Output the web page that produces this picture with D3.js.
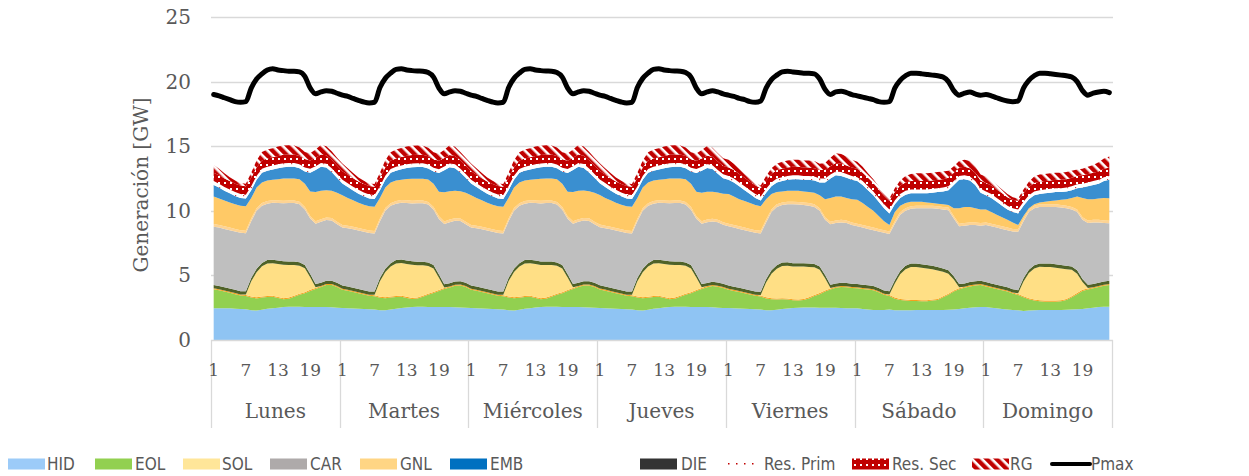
<!DOCTYPE html>
<html>
<head>
<meta charset="utf-8">
<script src="https://cdn.jsdelivr.net/npm/d3@7"></script>
<style>
  body { margin: 0; background: #fff; }
  svg { display: block; }
</style>
</head>
<body>
<svg id="chart" width="1249" height="476"></svg>
<script>
// ---- Data: hourly generation by technology, one row of 24 hours per day (GW) ----
const days = ["Lunes", "Martes", "Miércoles", "Jueves", "Viernes", "Sábado", "Domingo"];
const hourTicks = [1, 7, 13, 19];
const yTicks = [0, 5, 10, 15, 20, 25];

const HID = [
  [2.45,2.45,2.45,2.45,2.42,2.40,2.38,2.30,2.28,2.35,2.42,2.45,2.50,2.55,2.58,2.58,2.57,2.55,2.55,2.55,2.55,2.55,2.53,2.50],
  [2.48,2.45,2.44,2.42,2.40,2.38,2.36,2.30,2.30,2.36,2.42,2.47,2.52,2.55,2.57,2.57,2.56,2.55,2.55,2.56,2.55,2.54,2.52,2.50],
  [2.48,2.46,2.44,2.42,2.40,2.38,2.36,2.30,2.29,2.35,2.42,2.46,2.51,2.55,2.57,2.58,2.57,2.55,2.55,2.55,2.55,2.54,2.52,2.50],
  [2.48,2.46,2.44,2.42,2.40,2.38,2.36,2.30,2.29,2.35,2.42,2.46,2.51,2.55,2.57,2.58,2.57,2.55,2.55,2.55,2.55,2.53,2.50,2.48],
  [2.48,2.45,2.44,2.42,2.40,2.38,2.36,2.30,2.30,2.34,2.40,2.44,2.48,2.50,2.52,2.52,2.52,2.50,2.50,2.50,2.50,2.48,2.46,2.45],
  [2.45,2.40,2.36,2.33,2.32,2.32,2.36,2.30,2.30,2.30,2.31,2.32,2.32,2.32,2.32,2.32,2.33,2.34,2.36,2.40,2.45,2.50,2.53,2.55],
  [2.55,2.50,2.45,2.40,2.36,2.32,2.30,2.25,2.28,2.30,2.32,2.32,2.32,2.32,2.33,2.35,2.36,2.38,2.40,2.45,2.50,2.55,2.58,2.58]
].flat();

const EOL = [
  [1.47,1.40,1.30,1.20,1.13,1.05,1.02,0.98,0.94,0.93,0.91,0.90,0.75,0.60,0.62,0.77,0.93,1.07,1.25,1.40,1.55,1.70,1.72,1.60],
  [1.40,1.36,1.28,1.20,1.12,1.05,1.02,0.97,0.93,0.92,0.90,0.88,0.74,0.62,0.64,0.78,0.94,1.08,1.24,1.38,1.52,1.66,1.70,1.60],
  [1.40,1.35,1.28,1.20,1.12,1.05,1.02,0.98,0.94,0.92,0.90,0.88,0.74,0.60,0.63,0.77,0.93,1.07,1.24,1.40,1.55,1.68,1.70,1.60],
  [1.42,1.36,1.28,1.20,1.12,1.05,1.02,0.98,0.94,0.92,0.90,0.88,0.74,0.61,0.63,0.77,0.93,1.07,1.24,1.40,1.54,1.64,1.62,1.55],
  [1.40,1.35,1.28,1.20,1.12,1.05,1.00,0.92,0.85,0.80,0.75,0.70,0.60,0.55,0.58,0.70,0.88,1.05,1.25,1.40,1.55,1.62,1.62,1.58],
  [1.55,1.55,1.54,1.52,1.38,1.18,1.04,0.90,0.80,0.75,0.71,0.70,0.68,0.68,0.73,0.78,0.97,1.16,1.39,1.52,1.60,1.65,1.69,1.71],
  [1.60,1.55,1.50,1.45,1.39,1.28,1.18,1.05,0.87,0.75,0.68,0.65,0.65,0.65,0.67,0.75,0.94,1.17,1.40,1.45,1.50,1.55,1.62,1.68]
].flat();

const BIO = [
  [0.08,0.08,0.08,0.08,0.08,0.08,0.08,0.08,0.08,0.08,0.08,0.08,0.08,0.08,0.08,0.08,0.08,0.08,0.08,0.08,0.08,0.08,0.08,0.08],
  [0.08,0.08,0.08,0.08,0.08,0.08,0.08,0.08,0.08,0.08,0.08,0.08,0.08,0.08,0.08,0.08,0.08,0.08,0.08,0.08,0.08,0.08,0.08,0.08],
  [0.08,0.08,0.08,0.08,0.08,0.08,0.08,0.08,0.08,0.08,0.08,0.08,0.08,0.08,0.08,0.08,0.08,0.08,0.08,0.08,0.08,0.08,0.08,0.08],
  [0.08,0.08,0.08,0.08,0.08,0.08,0.08,0.08,0.08,0.08,0.08,0.08,0.08,0.08,0.08,0.08,0.08,0.08,0.08,0.08,0.08,0.08,0.08,0.08],
  [0.08,0.08,0.08,0.08,0.08,0.08,0.08,0.08,0.08,0.08,0.08,0.08,0.08,0.08,0.08,0.08,0.08,0.08,0.08,0.08,0.08,0.08,0.08,0.08],
  [0.08,0.08,0.08,0.08,0.08,0.08,0.08,0.08,0.08,0.08,0.08,0.08,0.08,0.08,0.08,0.08,0.08,0.08,0.08,0.08,0.08,0.08,0.08,0.08],
  [0.08,0.08,0.08,0.08,0.08,0.08,0.08,0.08,0.08,0.08,0.08,0.08,0.08,0.08,0.08,0.08,0.08,0.08,0.08,0.08,0.08,0.08,0.08,0.08]
].flat();

const SOL = [
  [0,0,0,0,0,0,0.05,1.19,1.95,2.34,2.51,2.52,2.55,2.59,2.52,2.37,2.17,1.85,0.97,0.05,0,0,0,0],
  [0,0,0,0,0,0,0.05,1.20,1.95,2.33,2.52,2.53,2.55,2.57,2.50,2.36,2.15,1.83,0.95,0.05,0,0,0,0],
  [0,0,0,0,0,0,0.05,1.20,1.95,2.34,2.52,2.53,2.55,2.58,2.52,2.37,2.16,1.84,0.96,0.05,0,0,0,0],
  [0,0,0,0,0,0,0.05,1.18,1.94,2.34,2.52,2.53,2.55,2.58,2.52,2.37,2.16,1.84,0.96,0.05,0,0,0,0],
  [0,0,0,0,0,0,0.05,1.15,1.90,2.30,2.50,2.52,2.52,2.55,2.50,2.35,2.15,1.80,0.95,0.05,0,0,0,0],
  [0,0,0,0,0,0,0.05,1.10,1.90,2.35,2.55,2.55,2.52,2.45,2.35,2.20,1.90,1.55,0.85,0.08,0,0,0,0],
  [0,0,0,0,0,0,0.05,1.15,1.95,2.40,2.58,2.60,2.60,2.55,2.45,2.30,2.05,1.50,0.60,0.05,0,0,0,0]
].flat();

const DIE = [
  [0.25,0.25,0.25,0.25,0.25,0.25,0.25,0.25,0.26,0.26,0.27,0.27,0.27,0.27,0.27,0.27,0.26,0.26,0.25,0.25,0.25,0.25,0.25,0.25],
  [0.25,0.25,0.25,0.25,0.25,0.25,0.25,0.25,0.26,0.26,0.27,0.27,0.27,0.27,0.27,0.27,0.26,0.26,0.25,0.25,0.25,0.25,0.25,0.25],
  [0.25,0.25,0.25,0.25,0.25,0.25,0.25,0.25,0.26,0.26,0.27,0.27,0.27,0.27,0.27,0.27,0.26,0.26,0.25,0.25,0.25,0.25,0.25,0.25],
  [0.25,0.25,0.25,0.25,0.25,0.25,0.25,0.25,0.26,0.26,0.27,0.27,0.27,0.27,0.27,0.27,0.26,0.26,0.25,0.25,0.25,0.25,0.25,0.25],
  [0.25,0.25,0.25,0.25,0.25,0.25,0.25,0.25,0.26,0.26,0.27,0.27,0.27,0.27,0.27,0.27,0.26,0.26,0.25,0.25,0.25,0.25,0.25,0.25],
  [0.25,0.25,0.25,0.25,0.25,0.25,0.25,0.25,0.26,0.26,0.27,0.27,0.27,0.27,0.27,0.27,0.26,0.26,0.25,0.25,0.25,0.25,0.25,0.25],
  [0.25,0.25,0.25,0.25,0.25,0.25,0.25,0.25,0.26,0.26,0.27,0.27,0.27,0.27,0.27,0.27,0.26,0.26,0.25,0.25,0.25,0.25,0.25,0.25]
].flat();

const CAR = [
  [4.52,4.52,4.52,4.52,4.52,4.52,4.48,4.40,4.49,4.44,4.36,4.40,4.45,4.49,4.53,4.53,4.49,4.29,4.30,4.67,4.72,4.70,4.67,4.52],
  [4.50,4.50,4.52,4.52,4.52,4.52,4.48,4.40,4.49,4.44,4.36,4.40,4.45,4.48,4.53,4.53,4.49,4.29,4.30,4.66,4.72,4.70,4.66,4.52],
  [4.50,4.50,4.52,4.52,4.52,4.52,4.48,4.40,4.49,4.44,4.36,4.40,4.45,4.49,4.53,4.53,4.49,4.29,4.30,4.67,4.72,4.70,4.67,4.52],
  [4.50,4.50,4.52,4.52,4.52,4.52,4.48,4.40,4.49,4.44,4.36,4.40,4.45,4.49,4.53,4.53,4.49,4.29,4.30,4.67,4.70,4.68,4.66,4.56],
  [4.59,4.57,4.55,4.55,4.55,4.54,4.51,4.40,4.51,4.52,4.45,4.49,4.55,4.53,4.50,4.48,4.41,4.31,4.27,4.67,4.67,4.67,4.64,4.54],
  [4.47,4.42,4.37,4.32,4.37,4.47,4.42,4.37,4.36,4.26,4.23,4.28,4.33,4.40,4.45,4.50,4.56,4.66,4.47,4.47,4.47,4.42,4.35,4.26],
  [4.42,4.42,4.42,4.42,4.42,4.47,4.52,4.42,4.46,4.41,4.37,4.38,4.38,4.43,4.45,4.45,4.41,4.51,4.57,4.77,4.77,4.67,4.52,4.44]
].flat();

const GNA = [
  [0.20,0.20,0.20,0.20,0.20,0.20,0.20,0.20,0.20,0.20,0.20,0.20,0.20,0.20,0.20,0.20,0.20,0.20,0.20,0.20,0.20,0.20,0.20,0.20],
  [0.20,0.20,0.20,0.20,0.20,0.20,0.20,0.20,0.20,0.20,0.20,0.20,0.20,0.20,0.20,0.20,0.20,0.20,0.20,0.20,0.20,0.20,0.20,0.20],
  [0.20,0.20,0.20,0.20,0.20,0.20,0.20,0.20,0.20,0.20,0.20,0.20,0.20,0.20,0.20,0.20,0.20,0.20,0.20,0.20,0.20,0.20,0.20,0.20],
  [0.20,0.20,0.20,0.20,0.20,0.20,0.20,0.20,0.20,0.20,0.20,0.20,0.20,0.20,0.20,0.20,0.20,0.20,0.20,0.20,0.20,0.20,0.20,0.20],
  [0.20,0.20,0.20,0.20,0.20,0.20,0.20,0.20,0.20,0.20,0.20,0.20,0.20,0.20,0.20,0.20,0.20,0.20,0.20,0.20,0.20,0.20,0.20,0.20],
  [0.20,0.20,0.20,0.20,0.20,0.20,0.20,0.20,0.20,0.20,0.20,0.20,0.20,0.20,0.20,0.20,0.20,0.20,0.20,0.20,0.20,0.20,0.20,0.20],
  [0.20,0.20,0.20,0.20,0.20,0.20,0.20,0.20,0.20,0.20,0.20,0.20,0.20,0.20,0.20,0.20,0.20,0.20,0.20,0.20,0.20,0.20,0.20,0.20]
].flat();

const GNL = [
  [2.13,2.05,2.00,1.95,1.90,1.90,1.89,1.60,1.60,1.60,1.60,1.58,1.65,1.72,1.70,1.70,1.75,1.80,1.90,2.25,2.20,2.12,2.10,2.25],
  [2.30,2.15,2.05,1.95,1.90,1.88,1.88,1.60,1.60,1.60,1.60,1.58,1.65,1.72,1.70,1.70,1.75,1.80,1.90,2.25,2.20,2.12,2.10,2.25],
  [2.30,2.15,2.05,1.95,1.90,1.88,1.88,1.60,1.60,1.60,1.60,1.58,1.65,1.72,1.70,1.70,1.75,1.80,1.90,2.25,2.20,2.12,2.10,2.25],
  [2.30,2.15,2.05,1.95,1.90,1.88,1.88,1.60,1.60,1.60,1.60,1.58,1.65,1.72,1.70,1.70,1.75,1.80,1.90,2.20,2.15,2.10,2.10,2.20],
  [2.30,2.20,2.10,2.05,2.00,1.95,1.90,1.60,1.20,0.95,0.85,0.85,0.85,0.87,0.85,0.85,0.90,1.00,1.40,1.85,1.85,1.80,1.75,1.80],
  [1.85,1.70,1.50,1.30,1.00,0.70,0.50,0.70,0.50,0.40,0.35,0.30,0.30,0.25,0.20,0.20,0.20,0.20,0.60,1.20,1.25,1.20,1.10,1.05],
  [1.00,0.90,0.80,0.70,0.60,0.50,0.32,0.20,0.10,0.10,0.15,0.20,0.25,0.30,0.40,0.50,0.70,1.00,1.50,1.65,1.60,1.65,1.75,1.74]
].flat();

const EMB = [
  [0.90,0.85,0.75,0.70,0.65,0.60,0.60,0.60,0.60,0.75,0.75,0.80,0.85,0.88,0.90,0.90,0.85,0.95,1.45,1.70,1.85,1.75,1.45,1.15],
  [0.90,0.85,0.75,0.70,0.65,0.60,0.60,0.60,0.60,0.75,0.75,0.80,0.85,0.88,0.90,0.90,0.85,0.95,1.45,1.70,1.85,1.75,1.45,1.15],
  [0.90,0.85,0.75,0.70,0.65,0.60,0.60,0.60,0.60,0.75,0.75,0.80,0.85,0.88,0.90,0.90,0.85,0.95,1.45,1.70,1.85,1.75,1.45,1.15],
  [0.90,0.85,0.75,0.70,0.65,0.60,0.60,0.60,0.60,0.75,0.75,0.80,0.85,0.88,0.90,0.90,0.85,0.95,1.45,1.70,1.85,1.75,1.45,1.20],
  [1.10,1.10,1.00,0.85,0.70,0.55,0.45,0.50,0.60,0.75,0.80,0.85,0.90,0.90,0.90,0.95,0.95,1.00,1.30,1.50,1.65,1.60,1.55,1.50],
  [1.45,1.40,1.30,1.20,1.10,1.00,0.90,0.60,0.60,0.65,0.65,0.65,0.65,0.70,0.80,0.90,1.00,1.15,1.80,2.20,2.15,2.05,1.80,1.30],
  [1.10,1.10,1.00,0.90,0.80,0.80,0.90,0.80,0.70,0.70,0.65,0.65,0.65,0.65,0.60,0.60,0.60,0.65,0.80,1.00,1.10,1.15,1.30,1.43]
].flat();

const RESPRIM = [
  [0.30,0.30,0.30,0.30,0.30,0.30,0.30,0.30,0.30,0.30,0.30,0.30,0.30,0.30,0.30,0.30,0.30,0.30,0.30,0.30,0.30,0.30,0.30,0.30],
  [0.30,0.30,0.30,0.30,0.30,0.30,0.30,0.30,0.30,0.30,0.30,0.30,0.30,0.30,0.30,0.30,0.30,0.30,0.30,0.30,0.30,0.30,0.30,0.30],
  [0.30,0.30,0.30,0.30,0.30,0.30,0.30,0.30,0.30,0.30,0.30,0.30,0.30,0.30,0.30,0.30,0.30,0.30,0.30,0.30,0.30,0.30,0.30,0.30],
  [0.30,0.30,0.30,0.30,0.30,0.30,0.30,0.30,0.30,0.30,0.30,0.30,0.30,0.30,0.30,0.30,0.30,0.30,0.30,0.30,0.30,0.30,0.30,0.30],
  [0.30,0.30,0.30,0.30,0.30,0.30,0.30,0.30,0.30,0.30,0.30,0.30,0.30,0.30,0.30,0.30,0.30,0.30,0.30,0.30,0.30,0.30,0.30,0.30],
  [0.30,0.30,0.30,0.30,0.30,0.30,0.30,0.30,0.30,0.30,0.30,0.30,0.30,0.30,0.30,0.30,0.30,0.30,0.30,0.30,0.30,0.30,0.30,0.30],
  [0.30,0.30,0.30,0.30,0.30,0.30,0.30,0.30,0.30,0.30,0.30,0.30,0.30,0.30,0.30,0.30,0.30,0.30,0.30,0.30,0.30,0.30,0.30,0.30]
].flat();

const RESSEC = [
  [0.65,0.65,0.65,0.65,0.65,0.65,0.65,0.65,0.65,0.65,0.65,0.65,0.65,0.65,0.65,0.65,0.65,0.65,0.65,0.65,0.65,0.65,0.65,0.65],
  [0.65,0.65,0.65,0.65,0.65,0.65,0.65,0.65,0.65,0.65,0.65,0.65,0.65,0.65,0.65,0.65,0.65,0.65,0.65,0.65,0.65,0.65,0.65,0.65],
  [0.65,0.65,0.65,0.65,0.65,0.65,0.65,0.65,0.65,0.65,0.65,0.65,0.65,0.65,0.65,0.65,0.65,0.65,0.65,0.65,0.65,0.65,0.65,0.65],
  [0.65,0.65,0.65,0.65,0.65,0.65,0.65,0.65,0.65,0.65,0.65,0.65,0.65,0.65,0.65,0.65,0.65,0.65,0.65,0.65,0.65,0.65,0.65,0.65],
  [0.65,0.65,0.65,0.65,0.65,0.65,0.65,0.65,0.65,0.65,0.65,0.65,0.65,0.65,0.65,0.65,0.65,0.65,0.65,0.65,0.65,0.65,0.65,0.65],
  [0.65,0.65,0.65,0.65,0.65,0.65,0.65,0.65,0.65,0.65,0.65,0.65,0.65,0.65,0.65,0.65,0.65,0.65,0.65,0.65,0.65,0.65,0.65,0.65],
  [0.65,0.65,0.65,0.65,0.65,0.65,0.65,0.65,0.65,0.65,0.65,0.65,0.65,0.65,0.65,0.65,0.65,0.65,0.65,0.65,0.65,0.65,0.65,0.65]
].flat();

const RG = [
  [0.60,0.50,0.40,0.30,0.25,0.20,0.20,0.40,0.55,0.65,0.70,0.70,0.72,0.72,0.72,0.70,0.65,0.55,0.55,0.65,0.75,0.70,0.65,0.60],
  [0.60,0.50,0.40,0.30,0.25,0.20,0.20,0.40,0.55,0.65,0.70,0.70,0.72,0.72,0.72,0.70,0.65,0.55,0.55,0.65,0.75,0.70,0.65,0.60],
  [0.60,0.50,0.40,0.30,0.25,0.20,0.20,0.40,0.55,0.65,0.70,0.70,0.72,0.72,0.72,0.70,0.65,0.55,0.55,0.65,0.75,0.70,0.65,0.60],
  [0.60,0.50,0.40,0.30,0.25,0.20,0.20,0.40,0.55,0.65,0.70,0.70,0.72,0.72,0.72,0.70,0.65,0.55,0.55,0.65,0.75,0.70,0.65,0.60],
  [0.60,0.50,0.40,0.30,0.25,0.20,0.20,0.35,0.45,0.50,0.55,0.55,0.55,0.55,0.55,0.55,0.55,0.50,0.55,0.65,0.75,0.75,0.70,0.60],
  [0.55,0.45,0.35,0.30,0.25,0.20,0.20,0.30,0.40,0.50,0.55,0.60,0.60,0.60,0.60,0.60,0.60,0.55,0.50,0.50,0.55,0.55,0.50,0.45],
  [0.50,0.40,0.35,0.30,0.25,0.20,0.20,0.30,0.40,0.50,0.55,0.55,0.55,0.55,0.55,0.55,0.55,0.50,0.50,0.55,0.60,0.70,0.80,0.85]
].flat();

const PMAX = [
  [19.00,18.90,18.75,18.60,18.45,18.40,18.45,19.50,20.20,20.60,20.90,21.00,20.90,20.85,20.80,20.80,20.75,20.40,19.50,19.05,19.20,19.30,19.25,19.10],
  [18.95,18.85,18.70,18.55,18.42,18.35,18.40,19.55,20.25,20.65,20.95,21.00,20.90,20.85,20.82,20.80,20.70,20.35,19.50,19.05,19.20,19.30,19.25,19.10],
  [18.95,18.85,18.70,18.55,18.42,18.35,18.40,19.55,20.25,20.65,20.95,21.00,20.90,20.85,20.82,20.80,20.70,20.35,19.50,19.05,19.20,19.30,19.25,19.10],
  [18.95,18.85,18.70,18.55,18.42,18.35,18.40,19.55,20.25,20.65,20.95,21.00,20.90,20.85,20.82,20.80,20.70,20.35,19.50,19.05,19.20,19.30,19.20,19.05],
  [18.95,18.85,18.70,18.60,18.45,18.40,18.50,19.50,20.15,20.50,20.75,20.80,20.75,20.70,20.65,20.65,20.60,20.20,19.40,19.00,19.20,19.25,19.15,19.00],
  [18.90,18.80,18.70,18.60,18.45,18.40,18.45,19.50,20.10,20.45,20.65,20.65,20.60,20.55,20.50,20.45,20.35,20.00,19.30,18.95,19.10,19.20,19.05,18.95],
  [19.00,18.90,18.75,18.60,18.50,18.45,18.50,19.50,20.10,20.45,20.65,20.65,20.60,20.55,20.50,20.45,20.35,20.00,19.30,18.95,19.10,19.20,19.25,19.15]
].flat();

// ---- Series styling ----
const stackKeys = ["HID","EOL","BIO","SOL","DIE","CAR","GNA","GNL","EMB","RESPRIM","RESSEC","RG"];
const seriesValues = { HID, EOL, BIO, SOL, DIE, CAR, GNA, GNL, EMB, RESPRIM, RESSEC, RG };
const areaFill = {
  HID: "#8fc4f3", EOL: "#92d050", BIO: "#f5a21c", SOL: "#ffdf85", DIE: "#4f6228",
  CAR: "#bfbfbf", GNA: "#fdd394", GNL: "#ffc966", EMB: "#3a8fd0",
  RESPRIM: "url(#patPrim)", RESSEC: "url(#patSec)", RG: "url(#patRG)"
};

// ---- Layout ----
const plotL = 211, plotR = 1112, plotT = 17, plotB = 340;
const nHours = 168;
const textGray = "#595959";
const gridGray = "#d9d9d9";
const serif = "'DejaVu Serif', 'Liberation Serif', serif";
const narrow = "'Liberation Sans Narrow', 'DejaVu Sans Condensed', 'Arial Narrow', sans-serif";

const svg = d3.select("#chart");

// Patterns for the reserve layers
const defs = svg.append("defs");
const pPrim = defs.append("pattern").attr("id", "patPrim")
  .attr("patternUnits", "userSpaceOnUse").attr("width", 8).attr("height", 8);
pPrim.append("rect").attr("width", 8).attr("height", 8).attr("fill", "#ffffff");
pPrim.append("rect").attr("x", 3).attr("y", 3).attr("width", 1.2).attr("height", 1.2).attr("fill", "#d04040");

const pSec = defs.append("pattern").attr("id", "patSec")
  .attr("patternUnits", "userSpaceOnUse").attr("width", 6).attr("height", 6);
pSec.append("rect").attr("width", 6).attr("height", 6).attr("fill", "#c00000");
pSec.append("rect").attr("x", 2).attr("y", 2).attr("width", 2).attr("height", 2).attr("fill", "#ffffff");

const pRG = defs.append("pattern").attr("id", "patRG")
  .attr("patternUnits", "userSpaceOnUse").attr("width", 7).attr("height", 7)
  .attr("patternTransform", "rotate(-45)");
pRG.append("rect").attr("width", 7).attr("height", 7).attr("fill", "#ffffff");
pRG.append("rect").attr("width", 4.4).attr("height", 7).attr("fill", "#c00000");

// Scales
const x = d3.scalePoint().domain(d3.range(nHours)).range([plotL, plotR]).padding(0.5);
const step = x.step();
const y = d3.scaleLinear().domain([0, 25]).range([plotB, plotT]);

// Gridlines
svg.append("g").selectAll("line").data(yTicks.filter(v => v > 0)).join("line")
  .attr("x1", plotL).attr("x2", plotR + 1)
  .attr("y1", d => Math.round(y(d)) + 0.5).attr("y2", d => Math.round(y(d)) + 0.5)
  .attr("stroke", gridGray).attr("stroke-width", 1.3);

// Stacked areas
const rows = d3.range(nHours).map(i => {
  const r = { i };
  stackKeys.forEach(k => { r[k] = seriesValues[k][i]; });
  return r;
});
const stacked = d3.stack().keys(stackKeys)(rows);
const area = d3.area()
  .x(d => x(d.data.i))
  .y0(d => y(d[0]))
  .y1(d => y(d[1]));

svg.append("g").selectAll("path").data(stacked).join("path")
  .attr("d", area)
  .attr("fill", d => areaFill[d.key]);

// Pmax line
const line = d3.line().x((d, i) => x(i)).y(d => y(d)).curve(d3.curveMonotoneX);
svg.append("path").datum(PMAX)
  .attr("d", line)
  .attr("fill", "none").attr("stroke", "#000").attr("stroke-width", 5)
  .attr("stroke-linejoin", "round").attr("stroke-linecap", "round");

// Category axis: baseline, day separators, hour and day labels
const axisG = svg.append("g");
axisG.append("line")
  .attr("x1", plotL).attr("x2", plotR + 1).attr("y1", plotB + 0.5).attr("y2", plotB + 0.5)
  .attr("stroke", gridGray).attr("stroke-width", 1.3);
const dayEdges = d3.range(days.length + 1).map(d => plotL + d * 24 * step);
axisG.selectAll("line.sep").data(dayEdges).join("line").attr("class", "sep")
  .attr("x1", d => Math.round(d) + 0.5).attr("x2", d => Math.round(d) + 0.5)
  .attr("y1", plotB).attr("y2", 428)
  .attr("stroke", gridGray).attr("stroke-width", 1.3);

const hourLabels = [];
days.forEach((day, d) => hourTicks.forEach(h => hourLabels.push({ i: d * 24 + h - 1, t: String(h) })));
axisG.selectAll("text.hour").data(hourLabels).join("text").attr("class", "hour")
  .attr("x", d => x(d.i)).attr("y", 376)
  .attr("text-anchor", "middle")
  .attr("font-family", serif).attr("font-size", 17).attr("fill", textGray)
  .text(d => d.t);

axisG.selectAll("text.day").data(days).join("text").attr("class", "day")
  .attr("x", (d, i) => plotL + (i + 0.5) * 24 * step).attr("y", 418)
  .attr("text-anchor", "middle")
  .attr("font-family", serif).attr("font-size", 20).attr("fill", textGray)
  .text(d => d);

// Value axis labels
svg.append("g").selectAll("text").data(yTicks).join("text")
  .attr("x", 191).attr("y", d => y(d) + 7)
  .attr("text-anchor", "end")
  .attr("font-family", serif).attr("font-size", 20).attr("fill", textGray)
  .text(d => d);

svg.append("text")
  .attr("transform", "translate(148,185) rotate(-90)")
  .attr("text-anchor", "middle")
  .attr("font-family", serif).attr("font-size", 20).attr("fill", textGray)
  .text("Generación [GW]");

// Legend
const legendItems = [
  { name: "HID", kind: "rect", fill: "#9ccbf8", sx: 8, tx: 47 },
  { name: "EOL", kind: "rect", fill: "#92d050", sx: 95, tx: 135 },
  { name: "SOL", kind: "rect", fill: "#ffe699", sx: 183, tx: 222 },
  { name: "CAR", kind: "rect", fill: "#aeaaaa", sx: 270, tx: 310 },
  { name: "GNL", kind: "rect", fill: "#ffd584", sx: 360, tx: 400 },
  { name: "EMB", kind: "rect", fill: "#0070c0", sx: 450, tx: 490 },
  { name: "DIE", kind: "rect", fill: "#333333", sx: 640, tx: 681 },
  { name: "Res. Prim", kind: "dots", sx: 728, tx: 764 },
  { name: "Res. Sec", kind: "rect", fill: "url(#patSec)", sx: 852, tx: 892 },
  { name: "RG", kind: "rect", fill: "url(#patRG)", sx: 972, tx: 1010 },
  { name: "Pmax", kind: "line", sx: 1052, tx: 1091 }
];
const legY = 464;
const lg = svg.append("g");
legendItems.forEach(it => {
  if (it.kind === "rect") {
    lg.append("rect").attr("x", it.sx).attr("y", legY - 5.5).attr("width", 37).attr("height", 11)
      .attr("fill", it.fill);
  } else if (it.kind === "dots") {
    [0, 8, 16, 24].forEach(dx => lg.append("rect")
      .attr("x", it.sx + dx).attr("y", legY - 1).attr("width", 1.5).attr("height", 1.5)
      .attr("fill", "#c00000"));
  } else {
    lg.append("line").attr("x1", it.sx).attr("x2", it.sx + 38)
      .attr("y1", legY).attr("y2", legY)
      .attr("stroke", "#000").attr("stroke-width", 4).attr("stroke-linecap", "round");
  }
  lg.append("text").attr("x", it.tx).attr("y", legY + 6)
    .attr("font-family", narrow).attr("font-size", 17).attr("fill", textGray)
    .text(it.name);
});
</script>
</body>
</html>
